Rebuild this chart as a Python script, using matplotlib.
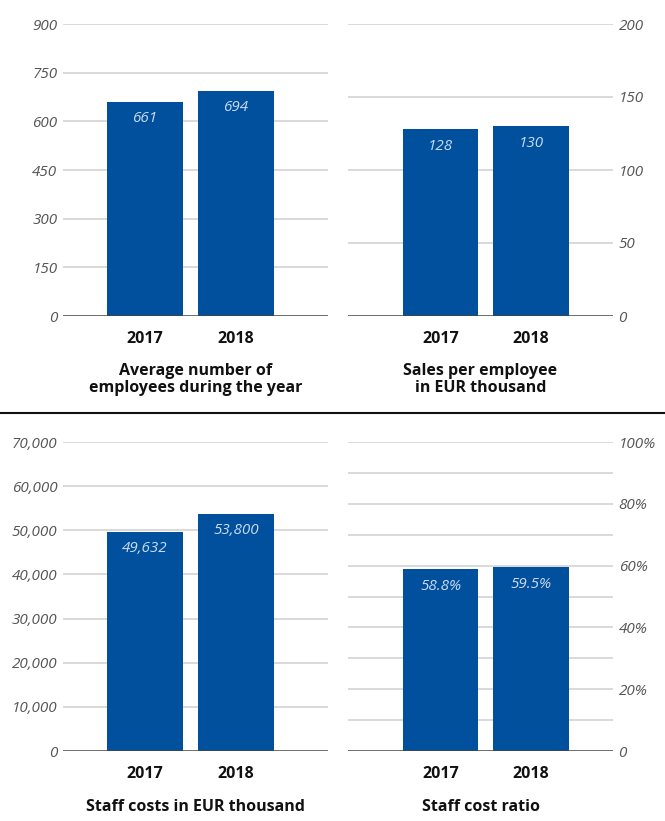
import matplotlib.pyplot as plt
from matplotlib.ticker import FixedLocator

plt.rcParams['font.family'] = ['Open Sans', 'DejaVu Sans']

years = ['2017', '2018']

employees = [661, 694]
employees_labels = ['661', '694']

sales_per_employee = [128, 130]
sales_labels = ['128', '130']

staff_costs = [49632, 53800]
staff_costs_labels = ['49,632', '53,800']

cost_ratio = [58.8, 59.5]
cost_ratio_labels = ['58.8%', '59.5%']

emp_ticks = [0, 150, 300, 450, 600, 750, 900]
emp_ticklabels = ['0', '150', '300', '450', '600', '750', '900']
sales_ticks = [0, 50, 100, 150, 200]
sales_ticklabels = ['0', '50', '100', '150', '200']
cost_ticks = [0, 10000, 20000, 30000, 40000, 50000, 60000, 70000]
cost_ticklabels = ['0', '10,000', '20,000', '30,000', '40,000', '50,000', '60,000', '70,000']
ratio_grid = [0, 10, 20, 30, 40, 50, 60, 70, 80, 90, 100]
ratio_ticks = [0, 20, 40, 60, 80, 100]
ratio_ticklabels = ['0', '20%', '40%', '60%', '80%', '100%']

BLUE = '#00509d'
GRID = '#cfcfcf'
W, H = 665, 821

fig = plt.figure(figsize=(W / 100, H / 100), dpi=100)


def make_axes(x0, x1, ytop, ybot):
    return fig.add_axes([x0 / W, (H - ybot) / H, (x1 - x0) / W, (ybot - ytop) / H])


def panel(ax, values, labels, ticks, ticklabels, ymax, grid, side, xlim, title, labelpad):
    ax.set_xlim(*xlim)
    ax.set_ylim(0, ymax)
    for g in grid[1:]:
        ax.axhline(g, color=GRID, lw=1.1, zorder=0)
    ax.axhline(0, color='#444444', lw=1.8, zorder=3)
    ax.bar([0, 1], values, width=0.835, color=BLUE, zorder=2)
    for i, (v, lab) in enumerate(zip(values, labels)):
        ax.annotate(lab, (i, v), xytext=(0, -17), textcoords='offset pixels',
                    ha='center', va='center', color='#ccdaf0', fontsize=11,
                    style='italic', zorder=4)
    for s in ax.spines.values():
        s.set_visible(False)
    ax.yaxis.set_major_locator(FixedLocator(ticks))
    ax.set_yticklabels(ticklabels, fontsize=11, style='italic', color='#555555')
    if side == 'right':
        ax.yaxis.tick_right()
    ax.tick_params(axis='y', length=0, pad=4)
    ax.set_xticks([0, 1])
    ax.set_xticklabels(years, fontsize=11.5, fontweight='bold', color='#111111')
    ax.tick_params(axis='x', length=0, pad=11)
    ax.set_xlabel(title, fontsize=11.5, fontweight='bold', color='#111111', labelpad=labelpad,
                  linespacing=1.15)
    ax.patch.set_alpha(0)


ax1 = make_axes(63, 328, 24, 316)
panel(ax1, employees, employees_labels, emp_ticks, emp_ticklabels, 900, emp_ticks,
      'left', (-0.90, 2.01), 'Average number of\nemployees during the year', 11)

ax2 = make_axes(348, 613, 24, 316)
panel(ax2, sales_per_employee, sales_labels, sales_ticks, sales_ticklabels, 200, sales_ticks,
      'right', (-1.03, 1.91), 'Sales per employee\nin EUR thousand', 11)

ax3 = make_axes(63, 328, 442, 751)
panel(ax3, staff_costs, staff_costs_labels, cost_ticks, cost_ticklabels, 70000, cost_ticks,
      'left', (-0.90, 2.01), 'Staff costs in EUR thousand', 12)

ax4 = make_axes(348, 613, 442, 751)
panel(ax4, cost_ratio, cost_ratio_labels, ratio_ticks, ratio_ticklabels, 100, ratio_grid,
      'right', (-1.03, 1.91), 'Staff cost ratio', 12)

# separator between the upper and lower pair of charts
fig.add_artist(plt.Line2D([0, 1], [(H - 413) / H] * 2, color='#111111', lw=1.5))

fig.savefig('out.png', dpi=100)
